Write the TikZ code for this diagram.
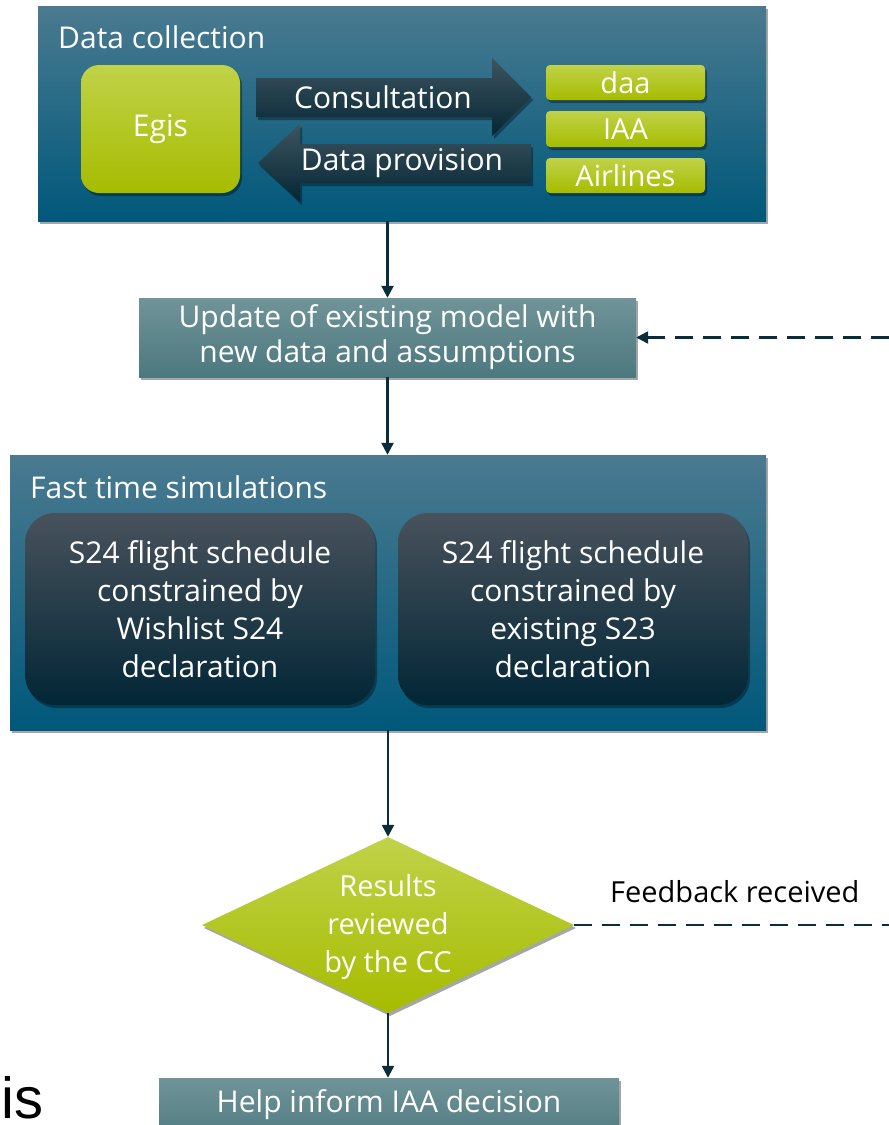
\documentclass[tikz,border=0pt]{standalone}
\usepackage{fontspec}
\setmainfont{Open Sans}
\newfontfamily\arialfont{Liberation Sans}
\usetikzlibrary{shadows,shapes.geometric,arrows.meta}
\definecolor{paneltop}{RGB}{74,122,144}
\definecolor{panelbot}{RGB}{0,88,122}
\definecolor{greentop}{RGB}{192,210,72}
\definecolor{greenbot}{RGB}{166,188,0}
\definecolor{updtop}{RGB}{112,148,152}
\definecolor{updbot}{RGB}{76,120,127}
\definecolor{darktop}{RGB}{72,82,92}
\definecolor{darkmid}{RGB}{4,44,60}
\definecolor{darkbot}{RGB}{2,38,54}
\definecolor{arrtop}{RGB}{62,84,96}
\definecolor{arrbot}{RGB}{4,38,52}
\definecolor{linecol}{RGB}{10,45,60}
\begin{document}
\begin{tikzpicture}[x=1pt,y=-1pt,
  shad/.style={drop shadow={shadow xshift=2pt,shadow yshift=-3pt,opacity=0.35,fill=black}},
  panel/.style={shad,rectangle,top color=paneltop,bottom color=panelbot,draw=none,inner sep=0pt},
  greenbox/.style={shad,rectangle,top color=greentop,bottom color=greenbot,draw=none,inner sep=0pt,text=white,font=\fontsize{29}{34}\selectfont},
  updbox/.style={shad,rectangle,top color=updtop,bottom color=updbot,draw=none,inner sep=0pt,text=white,align=center,font=\fontsize{30}{35}\selectfont},
  darkbox/.style={shad,rectangle,rounded corners=30pt,top color=darktop,middle color=darkmid,bottom color=darkbot,draw=none,inner sep=0pt,text=white,align=center,font=\fontsize{30}{38}\selectfont},
  wt/.style={text=white,inner sep=0pt,font=\fontsize{30}{35}\selectfont},
  conn/.style={draw=linecol,line width=2.4pt,-{Triangle[length=12pt,width=12pt]}},
  dashconn/.style={draw=linecol,line width=2.6pt,dash pattern=on 18pt off 10pt}
]
\useasboundingbox (0,0) rectangle (889,1125);
\fill[white] (0,0) rectangle (889,1125);

% Data collection panel
\node[panel,minimum width=728pt,minimum height=215pt] (dc) at (402,113.5) {};
\node[wt,anchor=west] (dct) at (58,37) {Data collection};
\node[greenbox,rounded corners=18pt,minimum width=159pt,minimum height=128pt,font=\fontsize{30}{35}\selectfont] (egis) at (160.5,129) {Egis};
\node[greenbox,rounded corners=4pt,minimum width=159pt,minimum height=35pt] (daa) at (625.5,82.5) {daa};
\node[greenbox,rounded corners=4pt,minimum width=159pt,minimum height=36pt] (iaa) at (625.5,129) {IAA};
\node[greenbox,rounded corners=4pt,minimum width=159pt,minimum height=35pt] (air) at (625.5,175.5) {Airlines};
\path[shad,top color=arrtop,bottom color=arrbot] (256,78) -- (492,78) -- (492,58) -- (531,97) -- (492,136) -- (492,117) -- (256,117) -- cycle;
\node[wt] (cons) at (383,97) {Consultation};
\path[shad,top color=arrtop,bottom color=arrbot] (531,144) -- (300,144) -- (300,124) -- (258,163) -- (300,202) -- (300,183) -- (531,183) -- cycle;
\node[wt] (prov) at (402,163) {Data provision};

% Update box
\node[updbox,minimum width=497pt,minimum height=79pt] (upd) at (387.5,337.5) {Update of existing model with\\new data and assumptions};

% Fast time simulations
\node[panel,minimum width=756pt,minimum height=275pt] (fts) at (388,592.5) {};
\node[wt,anchor=west] (ftst) at (30,487) {Fast time simulations};
\node[darkbox,minimum width=350pt,minimum height=192pt] (s1) at (200,609) {S24 flight schedule\\constrained by\\Wishlist S24\\declaration};
\node[darkbox,minimum width=350pt,minimum height=192pt] (s2) at (573,609) {S24 flight schedule\\constrained by\\existing S23\\declaration};

% Decision diamond
\node[shad,diamond,minimum width=372pt,minimum height=176pt,inner sep=0pt,top color=greentop,bottom color=greenbot,draw=none] (dia) at (388,925) {};
\node[wt,align=center,font=\fontsize{29}{38}\selectfont] (diat) at (388,927) {Results\\reviewed\\by the CC};
\node[inner sep=0pt,text=black,font=\fontsize{29}{34}\selectfont,anchor=west] (fb) at (610,892) {Feedback received};

% Help box
\node[updbox,minimum width=460pt,minimum height=67pt] (help) at (389,1111.5) {};
\node[wt] (helpt) at (389,1105) {Help inform IAA decision};

% Stray text
\node[inner sep=0pt,anchor=base west,text=black,font=\arialfont\fontsize{58}{60}\selectfont] (is) at (1,1118) {is};

% Connectors
\coordinate (e1) at (889,337.5);
\coordinate (e2) at (889,925);
\draw[conn] (upd.north |- dc.south) -- (upd.north);
\draw[conn] (upd.south) -- (fts.north -| upd.south);
\draw[conn] (fts.south -| dia.north) -- (dia.north);
\draw[conn] (dia.south) -- (help.north -| dia.south);
\draw[dashconn] (e1) -- ([xshift=12pt]upd.east);
\draw[draw=linecol,line width=2.4pt,-{Triangle[length=12pt,width=12pt]}] ([xshift=13pt]upd.east) -- (upd.east);
\draw[dashconn] (dia.east) -- (e2);
\end{tikzpicture}
\end{document}
